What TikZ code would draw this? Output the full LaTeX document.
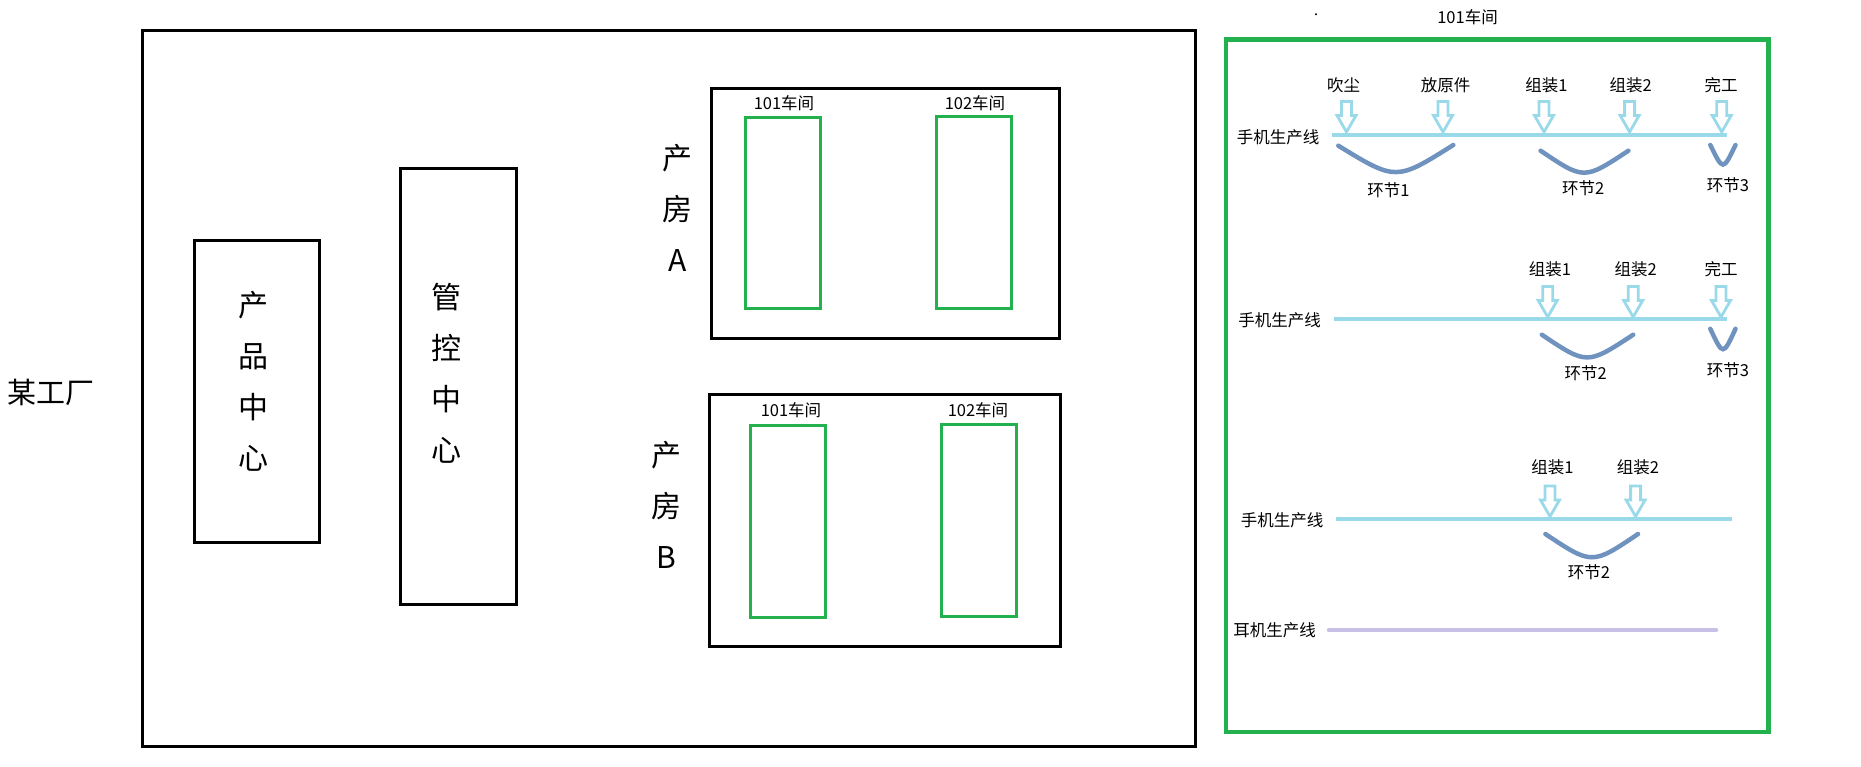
\documentclass[tikz,border=0pt]{standalone}
\usepackage{fontspec}
\setmainfont{Noto Sans CJK SC}
\definecolor{pgreen}{HTML}{22B14C}
\definecolor{pblue}{HTML}{99D9EA}
\definecolor{pcurve}{HTML}{7092BE}
\definecolor{plav}{HTML}{C8BFE7}
\begin{document}
\begin{tikzpicture}[x=1pt,y=-1pt,
  blackbox/.style={draw=black,line width=3pt,inner sep=0pt,outer sep=0pt,anchor=north west},
  roombox/.style={draw=pgreen,line width=2.8pt,inner sep=0pt,outer sep=0pt,anchor=north west},
  panelbox/.style={draw=pgreen,line width=4.4pt,inner sep=0pt,outer sep=0pt,anchor=north west},
  small/.style={font=\fontsize{16.5}{18}\selectfont,inner sep=0pt},
  big/.style={font=\fontsize{30}{51}\selectfont,align=center,inner sep=0pt},
  prodline/.style={draw=pblue,line width=4pt},
  earline/.style={draw=plav,line width=4.5pt,line cap=round},
  stage/.style={draw=pcurve,line width=4.5pt,line cap=round},
  feed/.pic={\draw[pblue,line width=2.8pt,line join=miter]
     (-5,-30.5) -- (5,-30.5) -- (5,-16.5) -- (9.5,-16.5) -- (0,0)
     -- (-9.5,-16.5) -- (-5,-16.5) -- cycle;}
]
\useasboundingbox (0,0) rectangle (1861,766);

% ---- factory ----
\node[font=\fontsize{29}{32}\selectfont,inner sep=0pt] (factory) at (51,392) {某工厂};
\node[blackbox,minimum width=1052.5pt,minimum height=715.7pt] (outer) at (142.5,30.8) {};

\node[blackbox,minimum width=124.3pt,minimum height=301.6pt] (pcbox) at (194.8,240.8) {};
\node[big] (pctext) at (253,381) {产\\品\\中\\心};

\node[blackbox,minimum width=116.3pt,minimum height=435.5pt] (mcbox) at (400,168.5) {};
\node[big] (mctext) at (446,373) {管\\控\\中\\心};

% room A
\node[blackbox,minimum width=348.4pt,minimum height=250.3pt] (roomA) at (711.3,88) {};
\node[big] (roomAtext) at (677.7,208) {产\\房\\A};
\node[roombox,minimum width=74.9pt,minimum height=191.3pt] (a101) at (745.8,117.5) {};
\node[roombox,minimum width=75.4pt,minimum height=192pt] (a102) at (936.3,116.5) {};
\node[small] (a101l) at (784,103) {101车间};
\node[small] (a102l) at (975,103) {102车间};

% room B
\node[blackbox,minimum width=350.6pt,minimum height=251.6pt] (roomB) at (709.7,394.7) {};
\node[big] (roomBtext) at (666,505) {产\\房\\B};
\node[roombox,minimum width=75pt,minimum height=192pt] (b101) at (750.5,425.5) {};
\node[roombox,minimum width=75pt,minimum height=192pt] (b102) at (941.8,424.5) {};
\node[small] (b101l) at (791,410) {101车间};
\node[small] (b102l) at (978,410) {102车间};

% ---- right panel ----
\node[panelbox,minimum width=542.5pt,minimum height=692.5pt] (panel) at (1226,39.5) {};
\node[small] (title) at (1467.5,17) {101车间};
\fill[black] (1316,14.3) circle (1.1pt);

% row 1
\node[small] (r1name) at (1278,137.7) {手机生产线};
\coordinate (r1s) at (1331.7,134.5);
\coordinate (r1e) at (1727,134.5);
\draw[prodline] (r1s) -- (r1e);
\node[small] (r1a) at (1343.6,85.5) {吹尘};
\node[small] (r1b) at (1445.7,85.5) {放原件};
\node[small] (r1c) at (1546.5,85.5) {组装1};
\node[small] (r1d) at (1630.8,85.5) {组装2};
\node[small] (r1f) at (1721,85.5) {完工};
\pic at (1346.5,132) {feed};
\pic at (1443,132) {feed};
\pic at (1544,132) {feed};
\pic at (1629.6,132) {feed};
\pic at (1721.7,132) {feed};
\coordinate (c1s) at (1338.3,145.7);
\coordinate (c1e) at (1453.3,145);
\draw[stage] (c1s) .. controls (1396,181) .. (c1e);
\coordinate (c2s) at (1540.6,150.7);
\coordinate (c2e) at (1628.4,150.7);
\draw[stage] (c2s) .. controls (1584,180) .. (c2e);
\coordinate (c3s) at (1710.3,145);
\coordinate (c3e) at (1735.5,145);
\draw[stage] (c3s) .. controls (1723,171) .. (c3e);
\node[small] (r1s1) at (1388.5,190) {环节1};
\node[small] (r1s2) at (1583.3,188.5) {环节2};
\node[small] (r1s3) at (1728,185.5) {环节3};

% row 2
\node[small] (r2name) at (1279.5,320.5) {手机生产线};
\coordinate (r2s) at (1334,319.3);
\coordinate (r2e) at (1727,319.3);
\draw[prodline] (r2s) -- (r2e);
\node[small] (r2c) at (1550,269.4) {组装1};
\node[small] (r2d) at (1635.6,269.4) {组装2};
\node[small] (r2f) at (1721,269.4) {完工};
\pic at (1547.7,317) {feed};
\pic at (1633.2,317) {feed};
\pic at (1721,317) {feed};
\coordinate (d2s) at (1541.8,334.7);
\coordinate (d2e) at (1633.2,334.7);
\draw[stage] (d2s) .. controls (1587,365) .. (d2e);
\coordinate (d3s) at (1710.3,328.8);
\coordinate (d3e) at (1735.5,328.8);
\draw[stage] (d3s) .. controls (1723,356) .. (d3e);
\node[small] (r2s2) at (1585.7,373) {环节2};
\node[small] (r2s3) at (1728,370.5) {环节3};

% row 3
\node[small] (r3name) at (1282,520) {手机生产线};
\coordinate (r3s) at (1336.4,518.7);
\coordinate (r3e) at (1731.7,518.7);
\draw[prodline] (r3s) -- (r3e);
\node[small] (r3c) at (1552.5,467.6) {组装1};
\node[small] (r3d) at (1638,467.6) {组装2};
\pic at (1550,516.5) {feed};
\pic at (1635.6,516.5) {feed};
\coordinate (e2s) at (1545.4,534);
\coordinate (e2e) at (1638,534);
\draw[stage] (e2s) .. controls (1592,565) .. (e2e);
\node[small] (r3s2) at (1589,572.5) {环节2};

% row 4
\node[small] (r4name) at (1274.7,630) {耳机生产线};
\coordinate (r4s) at (1329,630.2);
\coordinate (r4e) at (1716,630.2);
\draw[earline] (r4s) -- (r4e);
\end{tikzpicture}
\end{document}
